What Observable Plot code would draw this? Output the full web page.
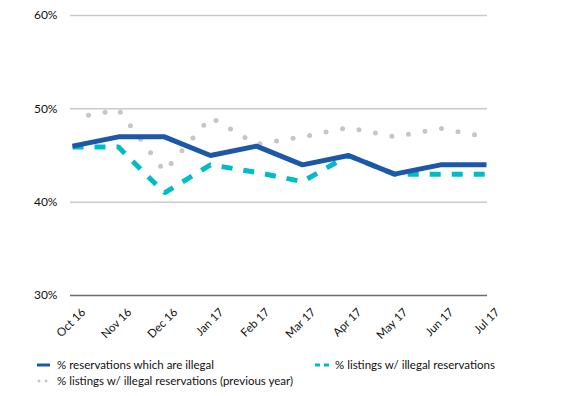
<!DOCTYPE html>
<html><head><meta charset="utf-8">
<script src="https://cdn.jsdelivr.net/npm/d3@7"></script>
<script src="https://cdn.jsdelivr.net/npm/@observablehq/plot@0.6"></script>
<style>
body{margin:0;background:#fff;font-family:Lato,"Open Sans",sans-serif;}
#wrap{position:relative;width:565px;height:396px;overflow:hidden;}
#legend{position:relative;width:565px;height:46px;}
.item{position:absolute;font-size:11.5px;color:#111;line-height:14px;white-space:nowrap;}
.sw{position:absolute;}
</style></head><body>
<div id="wrap"><div id="chart"></div><div id="legend"></div></div>
<script>
const months = ["Oct 16","Nov 16","Dec 16","Jan 17","Feb 17","Mar 17","Apr 17","May 17","Jun 17","Jul 17"];
const reservationsIllegal = [46,47,47,45,46,44,45,43,44,44];
const listingsIllegal = [45.9,45.9,41,44,43.2,42.2,45,43,43,43];
const listingsIllegalPrev = [49.0,49.9,43.3,49.1,46.2,47.0,48.0,47.0,47.9,47.0];
const yTicks = [30,40,50,60];
const seriesNames = ["% reservations which are illegal","% listings w/ illegal reservations","% listings w/ illegal reservations (previous year)"];
const colors = ["#1d58a8","#00bcc9","#c6c6c6"];

const rows = (vals) => months.map((m,i)=>({month:m, value:vals[i]}));

const chart = Plot.plot({
  width:565, height:350,
  marginLeft:70, marginRight:78, marginTop:15, marginBottom:55,
  style:{fontFamily:"Lato, 'Open Sans', sans-serif", fontSize:"12px", color:"#111", background:"#fff"},
  x:{type:"point", domain:months, padding:0},
  y:{domain:[30,60]},
  marks:[
    Plot.ruleY(yTicks.filter(d=>d>30), {stroke:"#c9c9c9", strokeWidth:1.5}),
    Plot.ruleY([30], {stroke:"#6b6b6b", strokeWidth:1.5}),
    Plot.line(rows(listingsIllegalPrev), {x:"month", y:"value", stroke:colors[2], strokeWidth:5, strokeLinecap:"round", strokeDasharray:"0 16.8", strokeDashoffset:0.5}),
    Plot.line(rows(listingsIllegal), {x:"month", y:"value", stroke:colors[1], strokeWidth:5, strokeLinecap:"butt", strokeLinejoin:"miter", strokeDasharray:"11 11"}),
    Plot.line(rows(reservationsIllegal), {x:"month", y:"value", stroke:colors[0], strokeWidth:5, strokeLinecap:"butt", strokeLinejoin:"miter"}),
    Plot.axisY({ticks:yTicks, tickFormat:d=>d+"%", tickSize:0, tickPadding:13, label:null, fontSize:12}),
    Plot.axisX({tickSize:0, tickRotate:-45, label:null, dx:11, dy:3, fontSize:11.5})
  ]
});
document.getElementById("chart").appendChild(chart);

const legend = document.getElementById("legend");
const items = [
  {name:seriesNames[0], sx:37, tx:57, y:15, kind:"solid", color:colors[0]},
  {name:seriesNames[1], sx:315, tx:335, y:15, kind:"dash", color:colors[1]},
  {name:seriesNames[2], sx:37, tx:57, y:31, kind:"dot", color:colors[2]}
];
items.forEach(it=>{
  const svg = d3.create("svg").attr("class","sw").attr("width",16).attr("height",8)
    .style("left",it.sx+"px").style("top",(it.y-4)+"px");
  if(it.kind==="solid") svg.append("line").attr("x1",0).attr("x2",13).attr("y1",4).attr("y2",4).attr("stroke",it.color).attr("stroke-width",3);
  if(it.kind==="dash") svg.append("line").attr("x1",0).attr("x2",14).attr("y1",4).attr("y2",4).attr("stroke",it.color).attr("stroke-width",3).attr("stroke-dasharray","5 4");
  if(it.kind==="dot") { [2,9].forEach(cx=>svg.append("circle").attr("cx",cx).attr("cy",4).attr("r",1.5).attr("fill",it.color)); }
  legend.appendChild(svg.node());
  const t = document.createElement("div");
  t.className="item"; t.textContent=it.name;
  t.style.left=it.tx+"px"; t.style.top=(it.y-7)+"px";
  legend.appendChild(t);
});
</script>
</body></html>
